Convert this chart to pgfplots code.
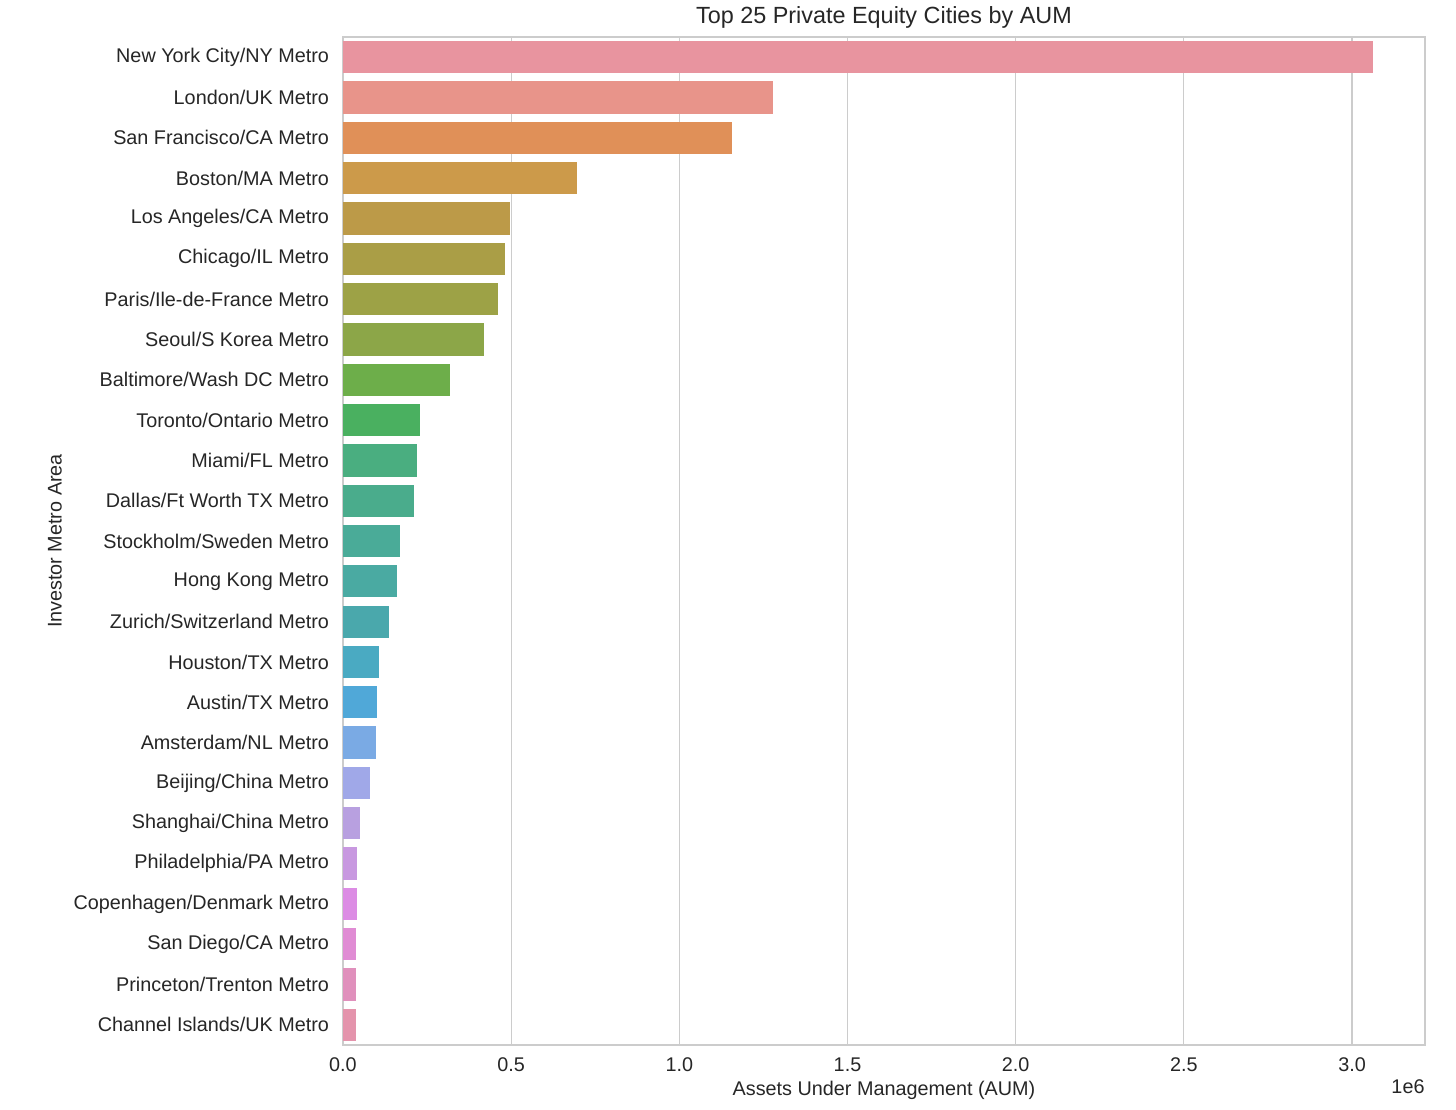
\documentclass[border=0pt]{standalone}
\usepackage{pgfplots}
\pgfplotsset{compat=1.18}
\usepackage{fontspec}
\setmainfont{Liberation Sans}
\definecolor{txt}{HTML}{262626}
\definecolor{grd}{HTML}{CCCCCC}
\definecolor{c1}{HTML}{E8949F}
\definecolor{c2}{HTML}{E8948A}
\definecolor{c3}{HTML}{E09058}
\definecolor{c4}{HTML}{CC9A4A}
\definecolor{c5}{HTML}{BC9A48}
\definecolor{c6}{HTML}{AA9E46}
\definecolor{c7}{HTML}{9DA246}
\definecolor{c8}{HTML}{8CA648}
\definecolor{c9}{HTML}{6DAE4A}
\definecolor{c10}{HTML}{4AB060}
\definecolor{c11}{HTML}{4AAE80}
\definecolor{c12}{HTML}{4AAC8C}
\definecolor{c13}{HTML}{4AAB98}
\definecolor{c14}{HTML}{4AAAA2}
\definecolor{c15}{HTML}{4AA8AC}
\definecolor{c16}{HTML}{4AAAC2}
\definecolor{c17}{HTML}{50A8D8}
\definecolor{c18}{HTML}{7AAAE4}
\definecolor{c19}{HTML}{A0A8E8}
\definecolor{c20}{HTML}{B8A0E0}
\definecolor{c21}{HTML}{C898E0}
\definecolor{c22}{HTML}{DC8CE4}
\definecolor{c23}{HTML}{E08CD4}
\definecolor{c24}{HTML}{E090BC}
\definecolor{c25}{HTML}{E494AC}
\begin{document}
\begin{tikzpicture}
\begin{axis}[
  at={(0,0)}, anchor=south west,
  scale only axis, width=541pt, height=504pt,
  xmin=0, xmax=3.217, ymin=-0.5, ymax=24.5,
  y dir=reverse,
  xbar, bar width=0.8, bar shift=0pt,
  xtick={0,0.5,1,1.5,2,2.5,3},
  xticklabels={0.0,0.5,1.0,1.5,2.0,2.5,3.0},
  ytick={0,...,24},
  yticklabels={New York City/NY Metro,London/UK Metro,San Francisco/CA Metro,Boston/MA Metro,Los Angeles/CA Metro,Chicago/IL Metro,Paris/Ile-de-France Metro,Seoul/S Korea Metro,Baltimore/Wash DC Metro,Toronto/Ontario Metro,Miami/FL Metro,Dallas/Ft Worth TX Metro,Stockholm/Sweden Metro,Hong Kong Metro,Zurich/Switzerland Metro,Houston/TX Metro,Austin/TX Metro,Amsterdam/NL Metro,Beijing/China Metro,Shanghai/China Metro,Philadelphia/PA Metro,Copenhagen/Denmark Metro,San Diego/CA Metro,Princeton/Trenton Metro,Channel Islands/UK Metro},
  major tick length=0pt,
  xmajorgrids, major grid style={grd, line width=0.6pt},
  axis line style={grd, line width=0.6pt},
  tick label style={font=\fontsize{9.9}{11}\selectfont, text=txt},
  xticklabel style={yshift=-3pt},
  yticklabel style={xshift=-3.5pt},
  label style={font=\fontsize{9.9}{11}\selectfont, text=txt},
  xlabel={Assets Under Management (AUM)},
  ylabel={Investor Metro Area},
  xlabel style={at={(axis description cs:0.5,-0.0446)}, anchor=center},
  ylabel style={at={(axis description cs:-0.2662,0.5)}, anchor=center},
  title={Top 25 Private Equity Cities by AUM},
  every axis title shift=0pt,
  title style={font=\fontsize{11.7}{13}\selectfont, text=txt, at={(axis description cs:0.5,1.0198)}, anchor=center},
  every axis plot/.append style={draw=none},
  clip=false,
]
\addplot[fill=c1] coordinates {(3.063,0)};
\addplot[fill=c2] coordinates {(1.279,1)};
\addplot[fill=c3] coordinates {(1.157,2)};
\addplot[fill=c4] coordinates {(0.696,3)};
\addplot[fill=c5] coordinates {(0.497,4)};
\addplot[fill=c6] coordinates {(0.482,5)};
\addplot[fill=c7] coordinates {(0.461,6)};
\addplot[fill=c8] coordinates {(0.419,7)};
\addplot[fill=c9] coordinates {(0.318,8)};
\addplot[fill=c10] coordinates {(0.229,9)};
\addplot[fill=c11] coordinates {(0.220,10)};
\addplot[fill=c12] coordinates {(0.211,11)};
\addplot[fill=c13] coordinates {(0.169,12)};
\addplot[fill=c14] coordinates {(0.161,13)};
\addplot[fill=c15] coordinates {(0.137,14)};
\addplot[fill=c16] coordinates {(0.107,15)};
\addplot[fill=c17] coordinates {(0.101,16)};
\addplot[fill=c18] coordinates {(0.098,17)};
\addplot[fill=c19] coordinates {(0.080,18)};
\addplot[fill=c20] coordinates {(0.051,19)};
\addplot[fill=c21] coordinates {(0.042,20)};
\addplot[fill=c22] coordinates {(0.042,21)};
\addplot[fill=c23] coordinates {(0.039,22)};
\addplot[fill=c24] coordinates {(0.039,23)};
\addplot[fill=c25] coordinates {(0.039,24)};
\node[font=\fontsize{9.9}{11}\selectfont, text=txt, anchor=center] at (axis description cs:0.9843,-0.0417) {1e6};
\end{axis}
\pgfresetboundingbox
\path[use as bounding box] (-171.5pt,-32pt) rectangle (556.5pt,522.5pt);
\end{tikzpicture}
\end{document}
